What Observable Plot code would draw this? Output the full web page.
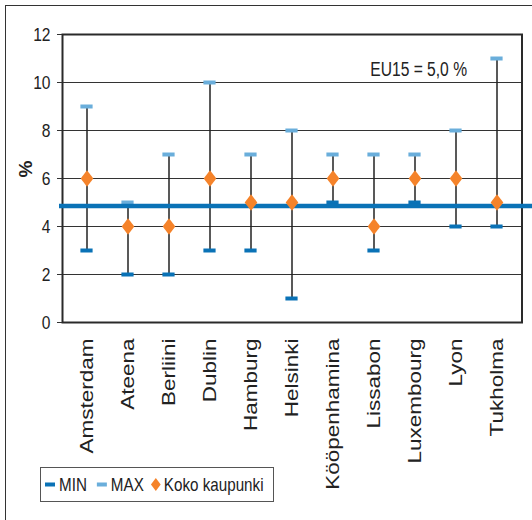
<!DOCTYPE html>
<html>
<head>
<meta charset="utf-8">
<script src="https://cdn.jsdelivr.net/npm/d3@7"></script>
<script src="https://cdn.jsdelivr.net/npm/@observablehq/plot@0.6"></script>
<style>
  html, body { margin: 0; padding: 0; background: #fff; overflow: hidden; width: 532px; height: 520px; }
  #frame { position: absolute; left: 5px; top: 5px; width: 600px; height: 600px; border: 1.5px solid #333; box-sizing: border-box; }
  #chart { position: absolute; left: 0; top: 0; }
  #legend { position: absolute; left: 40px; top: 467px; }
  #legend svg { overflow: visible; }
</style>
</head>
<body>
<div id="frame"></div>
<div id="chart"></div>
<div id="legend"></div>
<script>
const cities = ["Amsterdam", "Ateena", "Berliini", "Dublin", "Hamburg", "Helsinki", "Kööpenhamina", "Lissabon", "Luxembourg", "Lyon", "Tukholma"];
const minValues = [3, 2, 2, 3, 3, 1, 5, 3, 5, 4, 4];
const maxValues = [9, 5, 7, 10, 7, 8, 7, 7, 7, 8, 11];
const kokoValues = [6, 4, 4, 6, 5, 5, 6, 4, 6, 6, 5];
const euValue = 4.85;
const euLabel = "EU15 = 5,0 %";
const yTicks = [0, 2, 4, 6, 8, 10, 12];
const gridTicks = [2, 4, 6, 8, 10];
const legendLabels = ["MIN", "MAX", "Koko kaupunki"];

const colMin = "#0a72b6";
const colMax = "#6aaedb";
const colKoko = "#f5832a";
const font = "'Liberation Sans', Arial, sans-serif";

const data = cities.map((c, i) => ({city: c, min: minValues[i], max: maxValues[i], koko: kokoValues[i]}));

// diamond slightly taller than wide
const diamond = {
  draw(ctx, size) {
    const k = 0.76;
    const h = Math.sqrt(size / (2 * k));
    const w = h * k;
    ctx.moveTo(0, -h); ctx.lineTo(w, 0); ctx.lineTo(0, h); ctx.lineTo(-w, 0); ctx.closePath();
  }
};

const plot = Plot.plot({
  width: 532,
  height: 495,
  marginTop: 34,
  marginLeft: 62,
  marginRight: 10.5,
  marginBottom: 173,
  style: {background: "transparent", color: "#222", fontFamily: font},
  x: {domain: cities, padding: 0, label: null},
  y: {domain: [0, 12], label: null},
  marks: [
    Plot.ruleY(gridTicks, {stroke: "#333", strokeWidth: 1}),
    Plot.frame({stroke: "#2a2a2a", strokeWidth: 2}),
    Plot.axisY({ticks: yTicks, tickSize: 5, tickPadding: 7, label: null, fontFamily: font, fontSize: 19, stroke: "#333"}),
    Plot.axisX({tickRotate: -90, tickSize: 0, tickPadding: 16, label: null, fontFamily: font, fontSize: 18}),
    Plot.text(["%"], {frameAnchor: "left", dx: -37, dy: -1, rotate: -90, fontWeight: "bold", fontSize: 19, fontFamily: font, fill: "#222"}),
    Plot.ruleX(data, {x: "city", y1: "min", y2: "max", stroke: "#222", strokeWidth: 1.5}),
    Plot.tickY(data, {x: "city", y: "max", stroke: colMax, strokeWidth: 4, inset: 14.4}),
    Plot.tickY(data, {x: "city", y: "min", stroke: colMin, strokeWidth: 4, inset: 14.4}),
    Plot.ruleY([euValue], {stroke: colMin, strokeWidth: 4.5, insetLeft: -3, insetRight: -11}),
    Plot.dot(data, {x: "city", y: "koko", symbol: diamond, r: 5.8, fill: colKoko, stroke: "none"}),
    Plot.text([euLabel], {frameAnchor: "top-right", dx: -55, dy: 27, textAnchor: "end", fontFamily: font, fontSize: 20, fill: "#222"})
  ]
});
document.getElementById("chart").appendChild(plot);

// emulate the condensed / stretched glyphs of the original by scaling text along its direction
function scaleText(sel, factor) {
  sel.each(function() {
    const len = this.getComputedTextLength();
    d3.select(this).attr("textLength", len * factor).attr("lengthAdjust", "spacingAndGlyphs");
  });
}
const svg = d3.select(plot);
scaleText(svg.selectAll('g[aria-label="y-axis tick label"] text'), 0.82);
scaleText(svg.selectAll("text").filter(function() { return this.textContent === euLabel; }), 0.78);
scaleText(svg.selectAll('g[aria-label="x-axis tick label"] text'), 1.25);

// legend
const lw = 234, lh = 35;
const lsvg = d3.select("#legend").append("svg").attr("width", 300).attr("height", lh)
  .style("font-family", font).style("font-size", "19px");
lsvg.append("rect").attr("x", 0.5).attr("y", 0.5).attr("width", lw - 1).attr("height", lh - 1)
  .attr("fill", "#fff").attr("stroke", "#555").attr("stroke-width", 1);
const lf = 0.8;
let cx = 5;
const cy = 17.5;
function addText(label) {
  const t = lsvg.append("text").attr("x", cx).attr("y", cy).attr("dy", "0.36em").attr("fill", "#222").text(label);
  const len = t.node().getComputedTextLength() * lf;
  t.attr("textLength", len).attr("lengthAdjust", "spacingAndGlyphs");
  cx += len;
}
const legendSwatches = [colMin, colMax];
legendSwatches.forEach((c, i) => {
  lsvg.append("rect").attr("x", cx).attr("y", cy - 2).attr("width", 10).attr("height", 4).attr("fill", c);
  cx += 14;
  addText(legendLabels[i]);
  cx += 10;
});
cx -= 3;
lsvg.append("path").attr("d", d3.symbol(diamond, 62)()).attr("transform", `translate(${cx + 5},${cy})`).attr("fill", colKoko);
cx += 13;
addText(legendLabels[2]);
</script>
</body>
</html>
